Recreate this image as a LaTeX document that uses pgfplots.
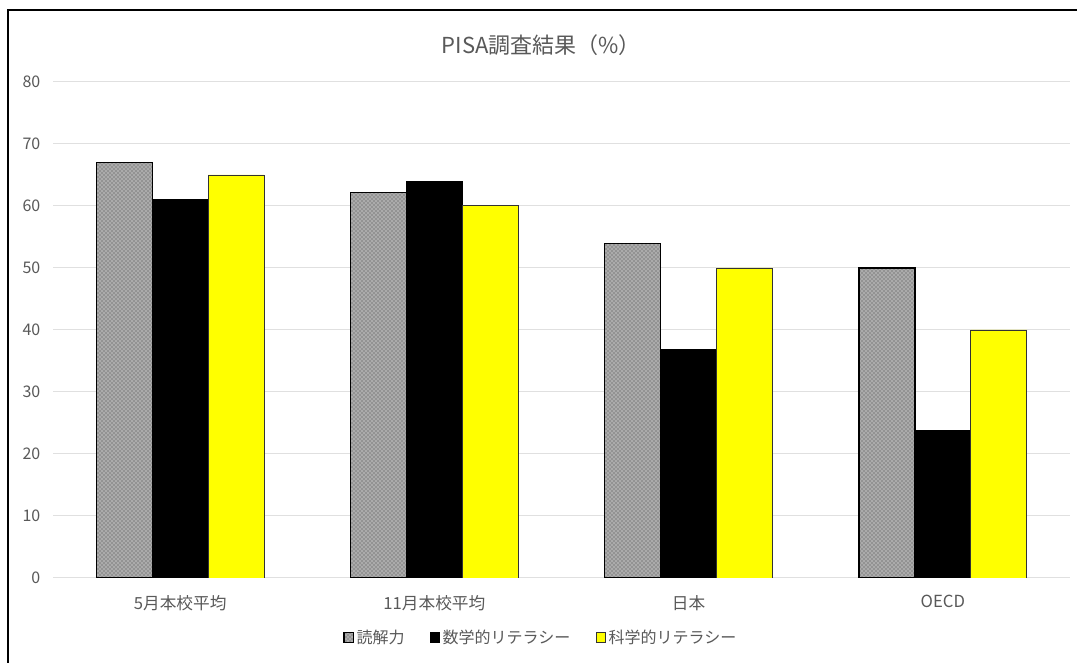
\documentclass[border=0pt]{standalone}
\usepackage{fontspec}
\setmainfont{Noto Sans CJK JP}
\usepackage{pgfplots}
\pgfplotsset{compat=1.18}
\usetikzlibrary{patterns}
\definecolor{txt}{HTML}{595959}
\definecolor{gridc}{HTML}{E0E0E0}
\definecolor{granite}{HTML}{ABABAB}
\definecolor{yel}{HTML}{FFFF00}
\begin{document}
\begin{tikzpicture}
\path[use as bounding box] (0,0) rectangle (807.75pt,497.25pt);
\fill[white] (0,0) rectangle (807.75pt,497.25pt);
\draw[black, line width=1.5pt] (6pt,0) -- (6pt,490pt) -- (807.75pt,490pt);
\node[txt, font=\fontsize{16.5}{20}\selectfont] at (406pt,463.5pt) {PISA調査結果（\%）};
\begin{axis}[
    at={(39.75pt,63.75pt)}, anchor=south west,
    width=762.75pt, height=372pt, scale only axis,
    xmin=-0.5, xmax=3.5, ymin=0, ymax=80,
    xtick={0,1,2,3},
    xticklabels={5月本校平均, 11月本校平均, 日本, OECD},
    ytick={0,10,...,80},
    xmajorgrids=false, ymajorgrids=true,
    grid style={draw=gridc, line width=0.75pt},
    axis line style={draw=none},
    tick style={draw=none},
    tick label style={txt, font=\fontsize{12}{14}\selectfont},
    xticklabel style={yshift=-5pt, font=\fontsize{12.5}{14}\selectfont},
    yticklabel style={xshift=-6pt},
    /pgf/number format/assume math mode=true,
    ybar, bar width=0.22,
    legend columns=3,
    legend style={draw=none, at={(0.48,-0.12)}, anchor=center,
        font=\fontsize{12}{14}\selectfont, text=txt,
        /tikz/every even column/.append style={column sep=17pt}},
    legend image code/.code={\draw[#1] (0pt,-3.5pt) rectangle (7pt,3.5pt);},
]
\addplot[bar shift=-0.22, fill=granite, draw=black, line width=0.9pt,
    postaction={pattern=crosshatch dots, pattern color=gray!55!black}]
    coordinates {(0,67) (1,62.2) (2,54) (3,50)};
\addplot[bar shift=0, fill=black, draw=black, line width=0.6pt]
    coordinates {(0,61) (1,64) (2,36.8) (3,23.8)};
\addplot[bar shift=0.22, fill=yel, draw=black!80, line width=0.6pt]
    coordinates {(0,65) (1,60.1) (2,50) (3,40)};
\legend{読解力, 数学的リテラシー, 科学的リテラシー}
\end{axis}
\end{tikzpicture}
\end{document}
